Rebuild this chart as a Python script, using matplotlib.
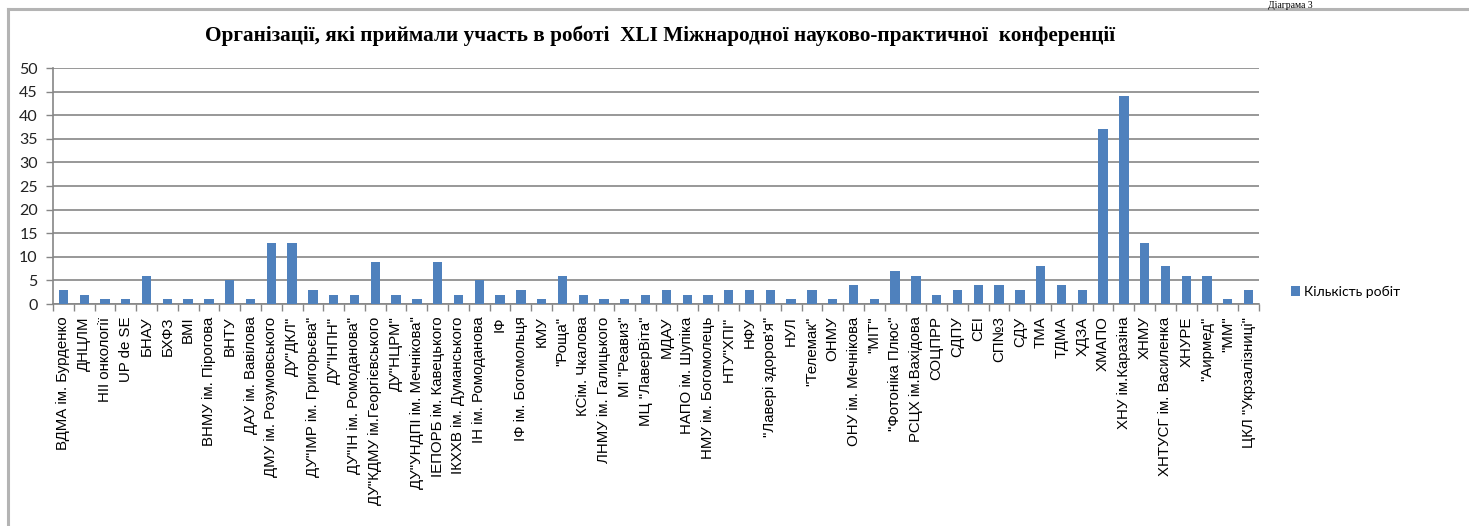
import matplotlib
matplotlib.use('Agg')
import matplotlib.pyplot as plt
from matplotlib.lines import Line2D

# organisations (x axis) and number of papers
orgs = [
    'ВДМА ім. Бурденко', 'ДНЦЛМ', 'НІІ онкології', 'UP de SE', 'БНАУ',
    'БХФЗ', 'ВМІ', 'ВНМУ ім. Пірогова', 'ВНТУ', 'ДАУ ім. Вавілова',
    'ДМУ ім. Розумовського', 'ДУ"ДКЛ"', 'ДУ"ІМР ім. Григорьєва"', 'ДУ"ІНПН"',
    'ДУ"ІН ім. Ромоданова"', 'ДУ"КДМУ ім.Георгієвського', 'ДУ"НЦРМ"',
    'ДУ"УНДПІ ім. Мечнікова"', 'ІЕПОРБ ім. Кавецького', 'ІКХХВ ім. Думанського',
    'ІН ім. Ромоданова', 'ІФ', 'ІФ ім. Богомольця', 'КМУ', '"Роща"',
    'КСім. Чкалова', 'ЛНМУ ім. Галицького', 'МІ "Реавиз"', 'МЦ "ЛаверВіта"',
    'МДАУ', 'НАПО ім. Шупіка', 'НМУ ім. Богомолець', 'НТУ"ХПІ"', 'НФУ',
    '"Лавері здоров\'я"', 'НУЛ', '"Телемак"', 'ОНМУ', 'ОНУ ім. Мечнікова',
    '"МІТ"', '"Фотоніка Плюс"', 'РСЦХ ім.Вахідова', 'СОЦПРР', 'СДПУ', 'СЕІ',
    'СП№3', 'СДУ', 'ТМА', 'ТДМА', 'ХДЗА', 'ХМАПО', 'ХНУ ім.Каразіна', 'ХНМУ',
    'ХНТУСГ ім. Василенка', 'ХНУРЕ', '"Аирмед"', '"ММ"', 'ЦКЛ "Укрзалізниці"',
]
papers = [3, 2, 1, 1, 6, 1, 1, 1, 5, 1,
          13, 13, 3, 2, 2, 9, 2, 1, 9, 2,
          5, 2, 3, 1, 6, 2, 1, 1, 2, 3,
          2, 2, 3, 3, 3, 1, 3, 1, 4, 1,
          7, 6, 2, 3, 4, 4, 3, 8, 4, 3,
          37, 44, 13, 8, 6, 6, 1, 3]
yticks = list(range(0, 51, 5))

BLUE = '#4F81BD'
GRID = '#868686'

fig = plt.figure(figsize=(14.69, 5.26), dpi=100)
ax = fig.add_axes([53 / 1469, 1 - 304 / 526, (1259 - 53) / 1469, (304 - 68) / 526])

x = list(range(len(orgs)))
ax.bar(x, papers, width=0.45, color=BLUE, zorder=3, label='Кількість робіт')

ax.set_xlim(-0.5, len(orgs) - 0.5)
ax.set_ylim(0, 50)
ax.set_yticks(yticks)
ax.set_yticklabels([str(v) for v in yticks], family='Lato', fontsize=11.5, color='#222222')
ax.yaxis.grid(True, color=GRID, linewidth=1.2, zorder=0)

# category labels, ticks between categories like Excel
ax.set_xticks(x)
ax.set_xticklabels(orgs, rotation=90, family='Liberation Sans', fontsize=10.8)
ax.tick_params(axis='x', length=0, pad=9)
ax.set_xticks([i - 0.5 for i in range(len(orgs) + 1)], minor=True)
ax.tick_params(axis='x', which='minor', length=5, color=GRID, width=1)
ax.tick_params(axis='y', length=5, color=GRID, width=1, pad=6)

for s in ['top', 'right']:
    ax.spines[s].set_visible(False)
for s in ['left', 'bottom']:
    ax.spines[s].set_color(GRID)
    ax.spines[s].set_linewidth(1.2)

leg = fig.legend(loc='center left', bbox_to_anchor=(1278 / 1469, 1 - 292 / 526),
                 frameon=False, handlelength=0.7, handleheight=0.7, handletextpad=0.3,
                 prop={'family': 'Lato', 'size': 10})

fig.text(660 / 1469, 1 - 36 / 526,
         'Організації, які приймали участь в роботі  XLI Міжнародної науково-практичної  конференції',
         ha='center', va='center', family='Liberation Serif', weight='bold', fontsize=15.3)

# page remnants: chart frame and caption above it
fig.add_artist(Line2D([8 / 1469, 1], [1 - 9 / 526, 1 - 9 / 526], transform=fig.transFigure,
                      color='#b4b4b4', linewidth=2.2))
fig.add_artist(Line2D([8 / 1469, 8 / 1469], [0, 1 - 9 / 526], transform=fig.transFigure,
                      color='#b4b4b4', linewidth=2.2))
fig.text(1290 / 1469, 0.998, 'Діаграма 3', ha='center', va='top',
         family='Liberation Serif', fontsize=7)

fig.savefig('out.png', dpi=100)
